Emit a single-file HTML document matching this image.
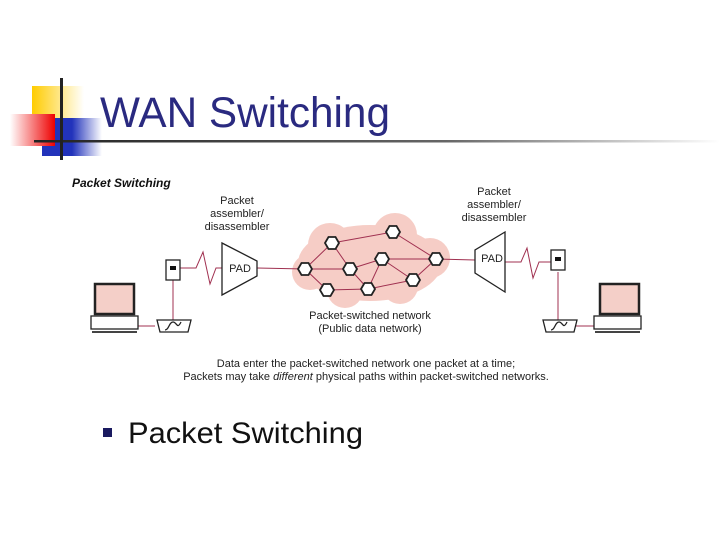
<!DOCTYPE html>
<html><head><meta charset="utf-8"><style>
body{margin:0;width:720px;height:540px;background:#fff;overflow:hidden;position:relative;font-family:"Liberation Sans",sans-serif}
.t{position:absolute}
</style></head><body>
<svg class="t" style="left:0;top:0" width="720" height="540">
<defs>
<linearGradient id="rd" x1="0" x2="1"><stop offset="0" stop-color="#fff"/><stop offset="1" stop-color="#e00"/></linearGradient>
<linearGradient id="bl" x1="0" x2="1"><stop offset="0" stop-color="#2233bb"/><stop offset="0.5" stop-color="#2233bb"/><stop offset="1" stop-color="#fff"/></linearGradient>
<linearGradient id="ln" x1="0" x2="1"><stop offset="0" stop-color="#222"/><stop offset="0.6" stop-color="#666"/><stop offset="1" stop-color="#fff"/></linearGradient>
<linearGradient id="yl" x1="0" x2="1"><stop offset="0" stop-color="#ffcc00"/><stop offset="1" stop-color="#fff"/></linearGradient>
</defs>
<rect x="32" y="86" width="52" height="38" fill="url(#yl)"/>
<rect x="42" y="118" width="60" height="38" fill="url(#bl)"/>
<rect x="10" y="114" width="45" height="32" fill="url(#rd)"/>
<rect x="34" y="140" width="686" height="2.5" fill="url(#ln)"/>
<rect x="60" y="78" width="3" height="82" fill="#222"/>
<text x="100" y="127" font-size="43" fill="#2a2a80" font-family="Liberation Sans" textLength="290" lengthAdjust="spacingAndGlyphs">WAN Switching</text>
<text x="72" y="187" font-size="12" font-weight="bold" font-style="italic" fill="#111">Packet Switching</text>
<g font-size="11" fill="#222" text-anchor="middle">
<text x="237" y="204">Packet</text><text x="237" y="217">assembler/</text><text x="237" y="230">disassembler</text>
<text x="494" y="195">Packet</text><text x="494" y="208">assembler/</text><text x="494" y="221">disassembler</text>
<text x="370" y="319">Packet-switched network</text><text x="370" y="332">(Public data network)</text>
<text x="366" y="367">Data enter the packet-switched network one packet at a time;</text>
<text x="366" y="380">Packets may take <tspan font-style="italic">different</tspan> physical paths within packet-switched networks.</text>
</g>
<g fill="#f6cdc6">
<ellipse cx="370" cy="263" rx="72" ry="38"/>
<circle cx="330" cy="245" r="22"/><circle cx="395" cy="235" r="22"/><circle cx="430" cy="258" r="20"/>
<circle cx="310" cy="272" r="18"/><circle cx="345" cy="290" r="18"/><circle cx="400" cy="286" r="18"/>
</g>
<g stroke="#a03050" stroke-width="1" fill="none">
<path d="M305 269L332 243M305 269L350 269M305 269L327 290M332 243L393 232M332 243L350 269M350 269L382 259M350 269L368 289M327 290L368 289M393 232L436 259M382 259L436 259M382 259L413 280M382 259L368 289M368 289L413 280M413 280L436 259"/>
<path d="M257 268L305 269M436 259L475 260"/>
<path d="M180 268L196 268L203 252L210 284L216 268L222 268"/>
<path d="M173 280L173 320M135 326L155 326"/>
<path d="M505 262L521 262L527 248L533 278L539 262L551 262"/>
<path d="M558 272L558 320M573 326L595 326"/>
</g>
<g fill="#fff" stroke="#222" stroke-width="1.8">
<polygon points="-7,0 -3.5,-6 3.5,-6 7,0 3.5,6 -3.5,6" transform="translate(305 269)"/>
<polygon points="-7,0 -3.5,-6 3.5,-6 7,0 3.5,6 -3.5,6" transform="translate(332 243)"/>
<polygon points="-7,0 -3.5,-6 3.5,-6 7,0 3.5,6 -3.5,6" transform="translate(350 269)"/>
<polygon points="-7,0 -3.5,-6 3.5,-6 7,0 3.5,6 -3.5,6" transform="translate(327 290)"/>
<polygon points="-7,0 -3.5,-6 3.5,-6 7,0 3.5,6 -3.5,6" transform="translate(393 232)"/>
<polygon points="-7,0 -3.5,-6 3.5,-6 7,0 3.5,6 -3.5,6" transform="translate(382 259)"/>
<polygon points="-7,0 -3.5,-6 3.5,-6 7,0 3.5,6 -3.5,6" transform="translate(368 289)"/>
<polygon points="-7,0 -3.5,-6 3.5,-6 7,0 3.5,6 -3.5,6" transform="translate(413 280)"/>
<polygon points="-7,0 -3.5,-6 3.5,-6 7,0 3.5,6 -3.5,6" transform="translate(436 259)"/>
</g>
<g fill="#fff" stroke="#222" stroke-width="1.3">
<polygon points="222,243 257,261 257,276 222,295"/>
<polygon points="505,232 475,250 475,273 505,292"/>
<rect x="166" y="260" width="14" height="20"/>
<rect x="551" y="250" width="14" height="20"/>
<rect x="95" y="284" width="39" height="30" fill="#f4cfc8" stroke-width="2.5"/>
<rect x="91" y="316" width="47" height="13"/>
<rect x="600" y="284" width="39" height="30" fill="#f4cfc8" stroke-width="2.5"/>
<rect x="594" y="316" width="47" height="13"/>
<path d="M157 320h34l-3 12h-28z"/>
<path d="M543 320h34l-3 12h-28z"/>
<path d="M165 330c4 0 4 -8 8 -8s4 8 8 0" fill="none"/>
<path d="M551 330c4 0 4 -8 8 -8s4 8 8 0" fill="none"/>
</g>
<rect x="170" y="266" width="6" height="4" fill="#111"/>
<rect x="555" y="257" width="6" height="4" fill="#111"/>
<rect x="92" y="331" width="45" height="2" fill="#444"/><rect x="595" y="331" width="45" height="2" fill="#444"/>
<text x="240" y="272" font-size="11" text-anchor="middle" fill="#222">PAD</text>
<text x="492" y="262" font-size="11" text-anchor="middle" fill="#222">PAD</text>
<rect x="103" y="428" width="9" height="9" fill="#1a1a60"/>
<text x="128" y="443" font-size="30" fill="#111" textLength="235" lengthAdjust="spacingAndGlyphs">Packet Switching</text>
</svg>
</body></html>
